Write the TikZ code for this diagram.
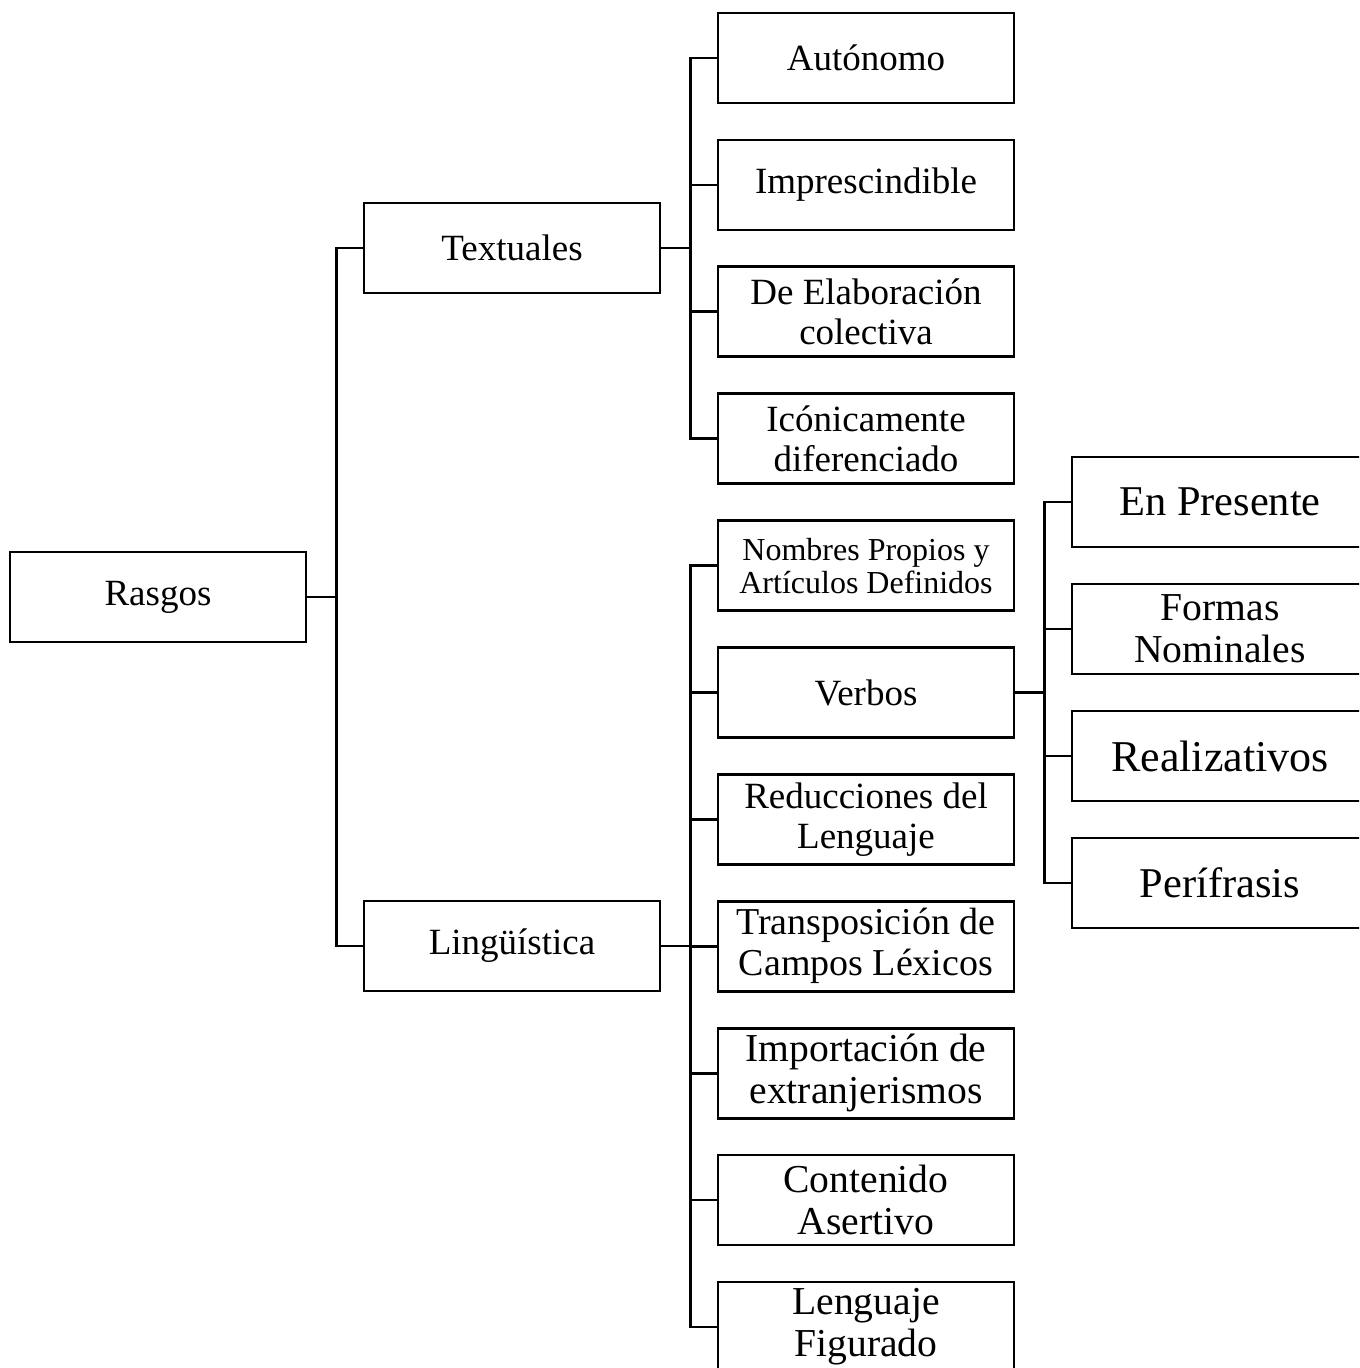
\documentclass[tikz,border=0pt]{standalone}
\usepackage{fontspec}
\setmainfont{Liberation Serif}
\tikzset{
    rasgo/.style={draw, line width=1.3pt, minimum width=148pt, minimum height=45pt,
        inner sep=0pt, align=center, font=\fontsize{18.5}{20}\selectfont},
    rasgoS/.style={rasgo, font=\fontsize{16}{16.5}\selectfont},
    rasgoM/.style={rasgo, font=\fontsize{19}{20.5}\selectfont},
    rasgoL/.style={rasgo, font=\fontsize{19.8}{21}\selectfont},
    rasgoXL/.style={rasgo, font=\fontsize{21.2}{22}\selectfont},
    rama/.style={line width=1.3pt}
}
\begin{document}
\begin{tikzpicture}[x=0.5pt, y=-0.5pt]
    \path[use as bounding box, clip] (0,0) rectangle (1359,1368);
    \def \gap {29}
    % nivel 1 y 2
    \node[rasgo] (rasgos) at (158,597) {Rasgos};
    \node[rasgo] (textuales) at (512,248) {Textuales};
    \node[rasgo] (linguistica) at (512,946) {Lingüística};
    % nivel 3
    \node[rasgo] (t1) at (866,58.0) {Autónomo};
    \node[rasgo] (t2) at (866,184.9) {Imprescindible};
    \node[rasgo] (t3) at (866,311.8) {De Elaboración\\colectiva};
    \node[rasgo] (t4) at (866,438.7) {Icónicamente\\diferenciado};
    \node[rasgoS] (l1) at (866,565.6) {Nombres Propios y\\Artículos Definidos};
    \node[rasgo] (l2) at (866,692.5) {Verbos};
    \node[rasgo] (l3) at (866,819.4) {Reducciones del\\Lenguaje};
    \node[rasgoM] (l4) at (866,946.3) {Transposición de\\Campos Léxicos};
    \node[rasgoL] (l5) at (866,1073.2) {Importación de\\extranjerismos};
    \node[rasgoL] (l6) at (866,1200.1) {Contenido\\Asertivo};
    \node[rasgoL] (l7) at (866,1327) {Lenguaje\\Figurado};
    % nivel 4
    \node[rasgoXL] (v1) at (1220,502) {En Presente};
    \node[rasgoL] (v2) at (1220,629) {Formas\\Nominales};
    \node[rasgoXL, font=\fontsize{22}{23}\selectfont] (v3) at (1220,756) {Realizativos};
    \node[rasgoXL] (v4) at (1220,883) {Perífrasis};
    % conectores
    \foreach \h in {textuales, linguistica}
        \draw[rama] (rasgos.east) -- ++(\gap,0) |- (\h.west);
    \foreach \h in {t1,t2,t3,t4}
        \draw[rama] (textuales.east) -- ++(\gap,0) |- (\h.west);
    \foreach \h in {l1,l2,l3,l4,l5,l6,l7}
        \draw[rama] (linguistica.east) -- ++(\gap,0) |- (\h.west);
    \foreach \h in {v1,v2,v3,v4}
        \draw[rama] (l2.east) -- ++(\gap,0) |- (\h.west);
\end{tikzpicture}
\end{document}
